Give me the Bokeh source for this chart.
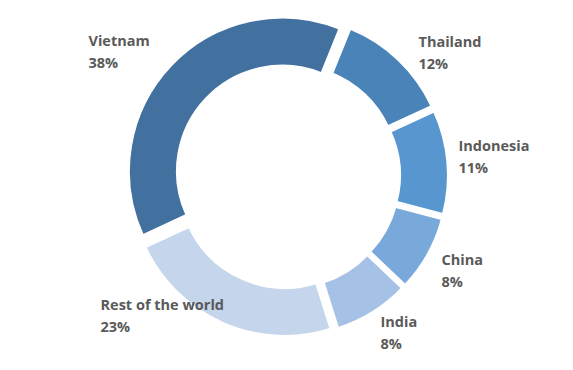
import math
from bokeh.plotting import figure
from bokeh.models import Range1d, ColumnDataSource
from bokeh.core.properties import value
from bokeh.embed import file_html
from bokeh.resources import INLINE

# ---- data ----
countries = ["Thailand", "Indonesia", "China", "India", "Rest of the world", "Vietnam"]
shares = [12, 11, 8, 8, 23, 38]
colors = ["#4A83B8", "#5796CE", "#79A9DA", "#A5C1E5", "#C4D5EC", "#42719F"]

# ---- layout (pixels) ----
W, H = 557, 354
CX, CY = 287, 175.5
R_OUT, R_IN = 154, 105
EXPLODE = 7
START_BEARING = 22.0        # degrees clockwise from 12 o'clock

# label anchor (left x, baseline y of first line)
label_pos = [(418, 41), (458, 145), (441, 259), (380, 321), (100, 304), (88, 40)]
LINE_GAP = 21.5

p = figure(width=W, height=H, output_backend="svg", toolbar_location=None,
           x_range=Range1d(0, W), y_range=Range1d(0, H), min_border=0,
           background_fill_color="white", border_fill_color="white")
p.axis.visible = False
p.grid.visible = False
p.outline_line_color = None

total = sum(shares)
b = START_BEARING
xs, ys, sa, ea = [], [], [], []
for s in shares:
    span = 360.0 * s / total
    b0, b1 = b, b + span
    bm = math.radians((b0 + b1) / 2)
    xs.append(CX + EXPLODE * math.sin(bm))
    ys.append(H - CY + EXPLODE * math.cos(bm))
    sa.append(math.radians(90 - b1))
    ea.append(math.radians(90 - b0))
    b = b1

src = ColumnDataSource(dict(x=xs, y=ys, sa=sa, ea=ea, color=colors))
p.annular_wedge(x="x", y="y", inner_radius=R_IN, outer_radius=R_OUT,
                start_angle="sa", end_angle="ea", fill_color="color",
                line_color="white", line_width=3, source=src)

lx = [q[0] for q in label_pos]
ly1 = [H - q[1] for q in label_pos]
ly2 = [H - q[1] - LINE_GAP for q in label_pos]
pct = [f"{s}%" for s in shares]

for yy, tt in ((ly1, countries), (ly2, pct)):
    p.text(x=lx, y=yy, text=tt, text_font=value("Open Sans"),
           text_font_size="14.5px", text_font_style="bold", text_color="#5a5a5a",
           text_align="left", text_baseline="alphabetic")

open("out.html", "w").write(file_html(p, INLINE))
